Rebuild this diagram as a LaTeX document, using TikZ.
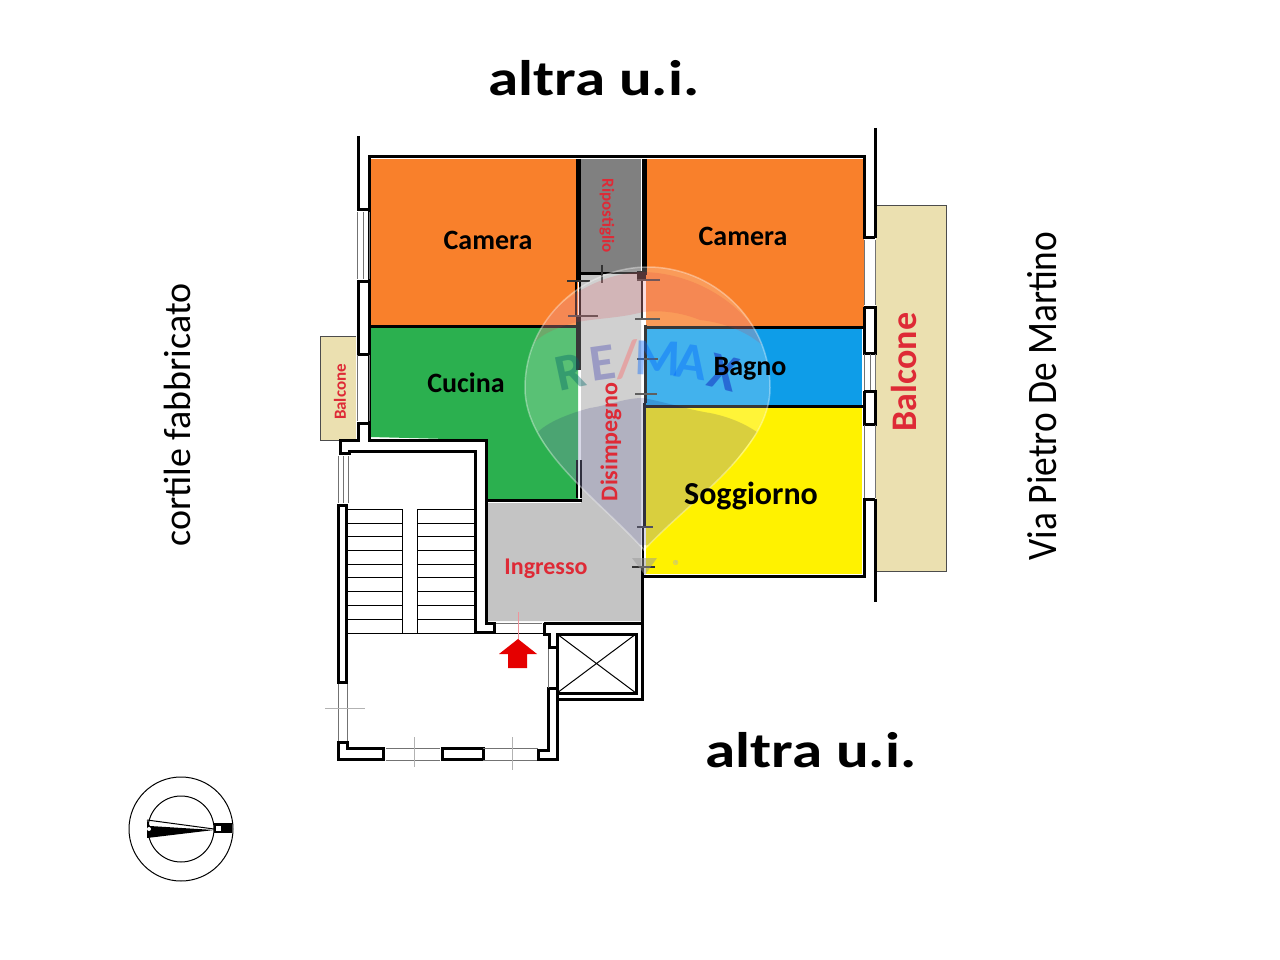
\documentclass[tikz,border=0pt]{standalone}
\usepackage{fontspec}
\setmainfont{Carlito}
\newfontfamily\widefont[FakeStretch=1.22]{Carlito}
\newfontfamily\narrowfont[FakeStretch=.89]{Carlito}
\usepackage{xcolor}
\definecolor{camera}{HTML}{F9802B}
\definecolor{cucina}{HTML}{2BB04F}
\definecolor{bagno}{HTML}{0E9DE8}
\definecolor{soggiorno}{HTML}{FFF200}
\definecolor{ingresso}{HTML}{C4C4C4}
\definecolor{ripostiglio}{HTML}{808080}
\definecolor{balcone}{HTML}{EBE0B0}
\definecolor{scritta}{HTML}{DE2A36}
\tikzset{
	wall/.style={draw=black,line width=3pt,line join=miter},
	thickwall/.style={draw=black,line width=5pt},
	thinwall/.style={draw=black,line width=1.2pt},
	glass/.style={draw=black!55,line width=.8pt},
	tread/.style={draw=black,line width=1pt},
	tick/.style={draw=black!80,line width=1.2pt},
	ghost/.style={draw=black!30,line width=.6pt},
	bigtext/.style={font=\widefont\bfseries\fontsize{50}{50}\selectfont},
	sidetext/.style={font=\fontsize{38}{38}\selectfont},
	roomtext/.style={font=\bfseries\fontsize{28}{28}\selectfont,text=black},
	redtext/.style={font=\bfseries\fontsize{24}{24}\selectfont,text=scritta},
	remaxletter/.style={font=\bfseries\fontsize{52}{52}\selectfont,text opacity=.4},
	balloon/.style={insert path={(525,388) .. controls (525,318) and (585,267) .. (648,267) .. controls (711,267) and (770,318) .. (770,388) .. controls (770,450) and (690,500) .. (644,550) .. controls (600,500) and (525,450) .. (525,388) -- cycle}}
}
\begin{document}
\begin{tikzpicture}[x=1pt,y=-1pt]
	\useasboundingbox[fill=white] (0,0) rectangle (1280,960);
	% stanze
	\fill[camera] (370,159) rectangle (578,325);
	\fill[camera] (646,159) rectangle (864,326);
	\fill[ripostiglio] (581,159) rectangle (641,272);
	\fill[cucina] (370,327) -- (578,327) -- (578,499) -- (487,499) -- (487,440) -- (370,437) -- cycle;
	\fill[bagno] (646,328) rectangle (862,405);
	\fill[soggiorno] (646,408) rectangle (862,574);
	\fill[ingresso] (581,272) -- (641,272) -- (641,621) -- (487,621) -- (487,503) -- (581,503) -- cycle;
	\fill[balcone] (876,205) rectangle (946,571);
	\draw[black!70,line width=.8pt] (876,205) -- (946,205) -- (946,571) -- (876,571);
	\fill[balcone] (320,336) rectangle (356,440);
	\draw[black!70,line width=.8pt] (356,336) -- (320,336) -- (320,440) -- (356,440);
	% muri appartamento
	\draw[wall] (358,136) -- (358,210) -- (369,210);
	\draw[wall] (369,281) -- (358,281) -- (358,354) -- (369,354);
	\draw[wall] (369,423) -- (358,423) -- (358,440) -- (340,440) -- (340,453) -- (349,453) -- (349,451) -- (475,451) -- (475,632) -- (494,632) -- (494,623) -- (486,623) -- (486,440) -- (369,440) -- (369,157) -- (864,157) -- (864,238) -- (875,238);
	\draw[wall] (875,128) -- (875,238);
	\draw[wall] (864,307) -- (875,307) -- (875,353) -- (864,353) -- (864,307);
	\draw[wall] (864,391) -- (875,391) -- (875,424) -- (864,424) -- (864,391);
	\draw[wall] (875,499) -- (864,499) -- (864,576) -- (642,576);
	\draw[wall] (875,499) -- (875,602);
	\draw[wall] (370,326) -- (578,326);
	\draw[wall] (644,327) -- (864,327);
	\draw[wall] (644,406) -- (864,406);
	\draw[wall] (486,500) -- (582,500);
	\draw[thickwall] (578,159) -- (578,282);
	\draw[thickwall] (578,316) -- (578,370);
	\draw[thickwall] (644,159) -- (644,275);
	\draw[wall] (581,273) -- (602,273);
	\draw[thinwall] (602,273) -- (637,273);
	\fill[black] (637,271) rectangle (646,280);
	\draw[wall] (645,325) -- (645,403);
	\draw[wall] (644,403) -- (644,527);
	\draw[thinwall] (643,527) -- (643,567);
	\draw[wall] (642,567) -- (642,699) -- (557,699);
	\draw[thinwall] (577,460) -- (577,498) (581,460) -- (581,498);
	\draw[thinwall] (576,282) -- (576,315) (580,282) -- (580,315);
	\draw[thinwall] (642,280) -- (642,319);
	% finestre
	\draw[glass] (357,212) -- (357,279) (363,212) -- (363,279) (369,212) -- (369,279);
	\draw[glass] (357,355) -- (357,421) (369,355) -- (369,421);
	\draw[glass] (864,240) -- (864,305) (875,240) -- (875,305);
	\draw[glass] (864,354) -- (864,390) (870,354) -- (870,390) (875,354) -- (875,390);
	\draw[glass] (864,425) -- (864,498) (875,425) -- (875,498);
	% vano scala
	\draw[glass] (338,456) -- (338,503) (343,456) -- (343,503) (348,456) -- (348,503);
	\draw[wall] (338,505) -- (346,505) -- (346,682) -- (338,682) -- cycle;
	\draw[glass] (338,684) -- (338,742) (347,684) -- (347,742);
	\draw[wall] (347,742) -- (347,748) -- (383,748) -- (383,759) -- (338,759) -- (338,742) -- cycle;
	\draw[glass] (386,748) -- (440,748) (386,760) -- (440,760);
	\draw[wall] (442,748) rectangle (483,759);
	\draw[glass] (483,748) -- (538,748) (483,760) -- (538,760);
	\draw[wall] (538,750) -- (548,750) -- (548,688) -- (557,688) -- (557,759) -- (538,759) -- cycle;
	\draw[glass] (548,648) -- (548,688) (557,648) -- (557,688);
	\draw[wall] (544,623) -- (544,634) -- (549,634) -- (549,647) -- (557,647) -- (557,634);
	\draw[glass] (496,623) -- (542,623);
	\draw[tread] (347,633) -- (474,633) (494,633) -- (546,633);
	\foreach \yt in {509,523,536,550,564,577,591,605,619}
		\draw[tread] (348,\yt) -- (402,\yt) (417,\yt) -- (474,\yt);
	\draw[tread] (402.5,509) -- (402.5,633) (417,509) -- (417,633);
	% ascensore
	\draw[wall] (544,623) -- (642,623);
	\draw[wall] (557,634) rectangle (636,693);
	\draw[tread] (557,634) -- (636,693) (636,634) -- (557,693);
	% tacche
	\foreach \xa/\xb/\yt in {567/590/281,568/598/316,635/660/319,637/658/359,635/657/394,637/660/280,637/653/527,632/655/567}
		\draw[tick] (\xa,\yt) -- (\xb,\yt);
	\draw[tick] (602,265) -- (602,283);
	\draw[ghost] (325,708) -- (365,708) (414,737) -- (414,767) (512,737) -- (512,770);
	\draw[scritta!50,line width=.6pt] (518,612) -- (518,640);
	% freccia ingresso
	\fill[red!90!black] (518,639) -- (537,654) -- (527,654) -- (527,668) -- (508,668) -- (508,654) -- (499,654) -- cycle;
	% filigrana
	\begin{scope}
		\clip[balloon];
		\fill[white,opacity=.22] (500,250) rectangle (800,600);
		\fill[scritta,opacity=.16] (532,345) .. controls (535,320) and (585,273) .. (643,272) .. controls (700,273) and (750,310) .. (762,345) .. controls (745,330) and (720,322) .. (700,320) .. controls (680,312) and (660,310) .. (643,312) .. controls (620,318) and (600,318) .. (577,322) .. controls (555,328) and (540,335) .. (532,345) -- cycle;
		\fill[blue!40!black,opacity=.15] (538,432) .. controls (550,420) and (575,412) .. (590,408) .. controls (610,405) and (625,398) .. (643,398) .. controls (665,402) and (690,410) .. (710,413) .. controls (730,417) and (745,424) .. (757,432) .. controls (730,470) and (695,510) .. (667,545) -- (627,545) .. controls (595,510) and (560,470) .. (538,432) -- cycle;
	\end{scope}
	\draw[white,opacity=.35,line width=1.5pt,balloon];
	\foreach \nm/\ch/\xx/\yy/\rr/\col in {r/R/570/372/12/teal!80!black,e/E/603/363/8/blue!40!gray,b/{/}/627/360/4/red!60,m/M/658/358/-2/blue!60!cyan,a/A/691/362/-8/blue!60!cyan,x/X/723/373/-14/blue!70!black}
		\node[remaxletter,text=\col,rotate=\rr] (remax\nm) at (\xx,\yy) {\ch};
	\fill[black!40,opacity=.5] (632,558) -- (657,558) -- (645,575) -- cycle;
	\node[font=\fontsize{16}{16}\selectfont,text=black!30] (marchio) at (677,566) {®};
	% bussola
	\draw[black,line width=1pt] (181,829) circle (52);
	\draw[black,line width=1pt] (181,829) circle (33);
	\draw[black,line width=1pt] (147,820) -- (214,829);
	\fill[black] (147,820) -- (150,826) -- (214,830) -- (147,838) -- cycle;
	\fill[white] (149,829) circle (2);
	\fill[black] (214,823) rectangle (232,833);
	\fill[white] (216,826) rectangle (221,831);
	% scritte
	\node[bigtext] (altranord) at (594,78) {altra u.i.};
	\node[bigtext] (altrasud) at (811,750) {altra u.i.};
	\node[sidetext,rotate=90] (cortile) at (177,415) {cortile fabbricato};
	\node[sidetext,rotate=90,font=\narrowfont\fontsize{42}{42}\selectfont] (via) at (1042,396) {Via Pietro De Martino};
	\node[roomtext] (cameraovest) at (488,240) {Camera};
	\node[roomtext] (cameraest) at (743,236) {Camera};
	\node[roomtext] (cucinatxt) at (466,383) {Cucina};
	\node[roomtext] (bagnotxt) at (750,369) {Bagno};
	\node[roomtext,font=\bfseries\fontsize{32}{32}\selectfont] (soggiornotxt) at (751,496) {Soggiorno};
	\node[redtext] (ingressotxt) at (546,569) {Ingresso};
	\node[redtext,rotate=-90,font=\bfseries\fontsize{17}{17}\selectfont] (ripostigliotxt) at (607,216) {Ripostiglio};
	\node[redtext,rotate=90] (disimpegnotxt) at (611,442) {Disimpegno};
	\node[redtext,rotate=90,font=\bfseries\fontsize{36}{36}\selectfont] (balconeest) at (904,372) {Balcone};
	\node[redtext,rotate=90,font=\bfseries\fontsize{17}{17}\selectfont] (balconeovest) at (340,392) {Balcone};
\end{tikzpicture}
\end{document}
